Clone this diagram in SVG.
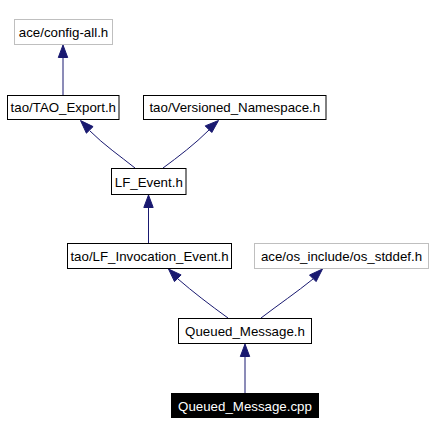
<svg xmlns="http://www.w3.org/2000/svg" width="434" height="435" viewBox="0 0 434 435">
<style>
.box{fill:#ffffff;stroke:#000000;stroke-width:1}
.gbox{fill:#ffffff;stroke:#bfbfbf;stroke-width:1}
.dark{fill:#000000;stroke:#000000;stroke-width:1}
text{font-family:"Liberation Sans",Arial,Helvetica,sans-serif;font-size:13.3px;text-anchor:middle;fill:#000000}
.wt{fill:#ffffff}
.edge{fill:none;stroke:#191970;stroke-width:1}
.head{fill:#191970;stroke:#191970;stroke-width:1}
</style>
<rect width="434" height="435" fill="#ffffff"/>
<g id="connectors">
  <path class="edge" d="M63,95 L63,57"/>
  <polygon class="head" points="63,45 58.3,57.5 67.7,57.5"/>
  <path class="edge" d="M135,168 C120,156 104,145 90,131"/>
  <polygon class="head" points="80.5,120.5 86.4,133.2 93.1,126.6"/>
  <path class="edge" d="M163,168 C178,157 195,144 209,130"/>
  <polygon class="head" points="218.5,120.5 205.2,125.9 211.8,132.5"/>
  <path class="edge" d="M148.5,243.5 L148.5,207"/>
  <polygon class="head" points="148.5,195 143.8,207.5 153.2,207.5"/>
  <path class="edge" d="M228,318 C210,305 193,292 178,279"/>
  <polygon class="head" points="168.5,269 174.5,281.6 181.1,274.9"/>
  <path class="edge" d="M261,318 C278,305 297,292 313,279"/>
  <polygon class="head" points="322.5,269 309.5,275 316.1,281.6"/>
  <path class="edge" d="M245,393 L245,356"/>
  <polygon class="head" points="245,344 240.3,356.5 249.7,356.5"/>
</g>
<g id="node-config-all">
  <rect class="gbox" x="14.5" y="19.5" width="98" height="25"/>
  <text x="63.5" y="37">ace/config-all.h</text>
</g>
<g id="node-tao-export">
  <rect class="box" x="7.5" y="95.5" width="111.5" height="24"/>
  <text x="63.3" y="112">tao/TAO_Export.h</text>
</g>
<g id="node-versioned">
  <rect class="box" x="143.5" y="95.5" width="182.5" height="24"/>
  <text x="234.8" y="112">tao/Versioned_Namespace.h</text>
</g>
<g id="node-lf-event">
  <rect class="box" x="111.5" y="168.5" width="74.5" height="26"/>
  <text x="148.8" y="186.5">LF_Event.h</text>
</g>
<g id="node-lf-invocation">
  <rect class="box" x="67.5" y="243.5" width="164" height="25"/>
  <text x="149.5" y="261">tao/LF_Invocation_Event.h</text>
</g>
<g id="node-os-stddef">
  <rect class="gbox" x="254.5" y="243.5" width="174" height="25"/>
  <text x="341.5" y="261">ace/os_include/os_stddef.h</text>
</g>
<g id="node-queued-message-h">
  <rect class="box" x="178.5" y="318.5" width="133" height="25"/>
  <text x="245" y="336">Queued_Message.h</text>
</g>
<g id="node-queued-message-cpp">
  <rect class="dark" x="171.5" y="393.5" width="147" height="24"/>
  <text class="wt" x="245" y="410.5">Queued_Message.cpp</text>
</g>
</svg>
